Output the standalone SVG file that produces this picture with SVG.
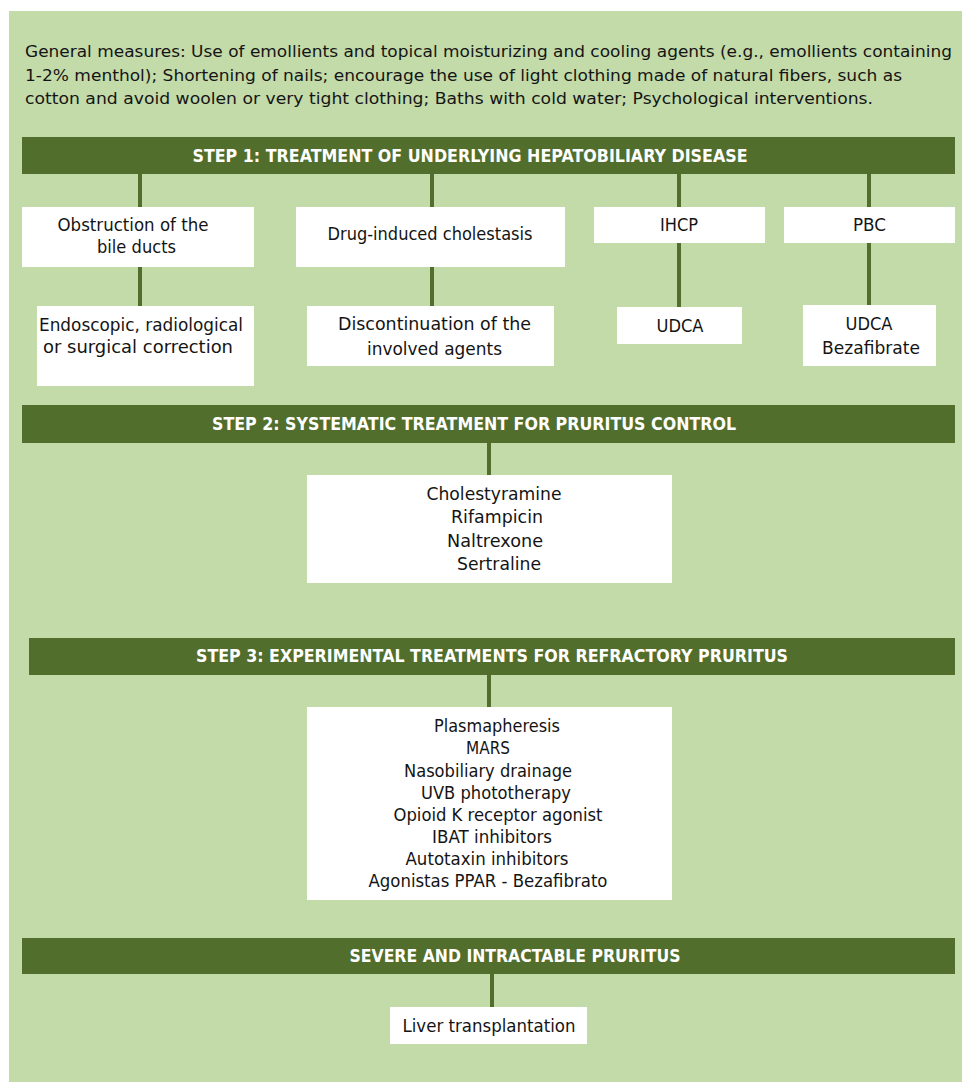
<svg xmlns="http://www.w3.org/2000/svg" width="962" height="1082" viewBox="0 0 962 1082">
<style>
.bg{fill:#c3daa9}
.bar{fill:#526e2d}
.box{fill:#ffffff}
.hd{font-family:"DejaVu Sans","Liberation Sans",sans-serif;font-weight:bold;font-size:18px;fill:#ffffff;text-anchor:middle}
.t{font-family:"DejaVu Sans","Liberation Sans",sans-serif;font-size:17px;fill:#141414;text-anchor:middle}
.gm{font-family:"DejaVu Sans","Liberation Sans",sans-serif;font-size:16.5px;fill:#141414}
.c{stroke:#526e2d;stroke-width:4;fill:none}
</style>
<rect width="962" height="1082" fill="#ffffff"/>
<rect class="bg" x="9" y="11" width="953" height="1071"/>
<g id="general">
<text class="gm" x="25" y="57" textLength="927" lengthAdjust="spacingAndGlyphs">General measures: Use of emollients and topical moisturizing and cooling agents (e.g., emollients containing</text>
<text class="gm" x="25" y="81" textLength="877" lengthAdjust="spacingAndGlyphs">1-2% menthol); Shortening of nails; encourage the use of light clothing made of natural fibers, such as</text>
<text class="gm" x="25" y="104" textLength="848" lengthAdjust="spacingAndGlyphs">cotton and avoid woolen or very tight clothing; Baths with cold water; Psychological interventions.</text>
</g>
<g id="connectors">
<line class="c" x1="140" y1="174" x2="140" y2="207"/>
<line class="c" x1="432" y1="174" x2="432" y2="207"/>
<line class="c" x1="679" y1="174" x2="679" y2="207"/>
<line class="c" x1="869" y1="174" x2="869" y2="207"/>
<line class="c" x1="140" y1="267" x2="140" y2="306"/>
<line class="c" x1="432" y1="267" x2="432" y2="306"/>
<line class="c" x1="679" y1="243" x2="679" y2="307"/>
<line class="c" x1="869" y1="243" x2="869" y2="305"/>
<line class="c" x1="489" y1="443" x2="489" y2="475"/>
<line class="c" x1="489" y1="675" x2="489" y2="707"/>
<line class="c" x1="492" y1="974" x2="492" y2="1007"/>
</g>
<g id="step1">
<rect class="bar" x="22" y="137" width="933" height="37"/>
<text class="hd" x="470" y="162" textLength="555" lengthAdjust="spacingAndGlyphs">STEP 1: TREATMENT OF UNDERLYING HEPATOBILIARY DISEASE</text>
</g>
<g id="obstruction">
<rect class="box" x="22" y="207" width="232" height="60"/>
<text class="t" x="133" y="231" textLength="151" lengthAdjust="spacingAndGlyphs">Obstruction of the</text>
<text class="t" x="136.5" y="253" textLength="79" lengthAdjust="spacingAndGlyphs">bile ducts</text>
</g>
<g id="drug">
<rect class="box" x="296" y="207" width="269" height="60"/>
<text class="t" x="430" y="240" textLength="205" lengthAdjust="spacingAndGlyphs">Drug-induced cholestasis</text>
</g>
<g id="ihcp">
<rect class="box" x="594" y="207" width="171" height="36"/>
<text class="t" x="679" y="231" textLength="38" lengthAdjust="spacingAndGlyphs">IHCP</text>
</g>
<g id="pbc">
<rect class="box" x="784" y="207" width="171" height="36"/>
<text class="t" x="869.5" y="231" textLength="33" lengthAdjust="spacingAndGlyphs">PBC</text>
</g>
<g id="endoscopic">
<rect class="box" x="37" y="306" width="217" height="80"/>
<text class="t" x="141" y="331" textLength="204" lengthAdjust="spacingAndGlyphs">Endoscopic, radiological</text>
<text class="t" x="138" y="353" textLength="190" lengthAdjust="spacingAndGlyphs">or surgical correction</text>
</g>
<g id="discontinuation">
<rect class="box" x="307" y="306" width="247" height="60"/>
<text class="t" x="434.5" y="330" textLength="193" lengthAdjust="spacingAndGlyphs">Discontinuation of the</text>
<text class="t" x="434.5" y="355" textLength="135" lengthAdjust="spacingAndGlyphs">involved agents</text>
</g>
<g id="udca1">
<rect class="box" x="617" y="307" width="125" height="37"/>
<text class="t" x="680" y="332" textLength="47" lengthAdjust="spacingAndGlyphs">UDCA</text>
</g>
<g id="udca2">
<rect class="box" x="803" y="305" width="133" height="61"/>
<text class="t" x="869" y="330" textLength="47" lengthAdjust="spacingAndGlyphs">UDCA</text>
<text class="t" x="871" y="354" textLength="98" lengthAdjust="spacingAndGlyphs">Bezafibrate</text>
</g>
<g id="step2">
<rect class="bar" x="22" y="405" width="933" height="38"/>
<text class="hd" x="474" y="430" textLength="524" lengthAdjust="spacingAndGlyphs">STEP 2: SYSTEMATIC TREATMENT FOR PRURITUS CONTROL</text>
</g>
<g id="step2-drugs">
<rect class="box" x="307" y="475" width="365" height="108"/>
<text class="t" x="494" y="500" textLength="135" lengthAdjust="spacingAndGlyphs">Cholestyramine</text>
<text class="t" x="497" y="523" textLength="92" lengthAdjust="spacingAndGlyphs">Rifampicin</text>
<text class="t" x="495" y="547" textLength="96" lengthAdjust="spacingAndGlyphs">Naltrexone</text>
<text class="t" x="499" y="570" textLength="84" lengthAdjust="spacingAndGlyphs">Sertraline</text>
</g>
<g id="step3">
<rect class="bar" x="29" y="638" width="926" height="37"/>
<text class="hd" x="492" y="662" textLength="592" lengthAdjust="spacingAndGlyphs">STEP 3: EXPERIMENTAL TREATMENTS FOR REFRACTORY PRURITUS</text>
</g>
<g id="step3-treatments">
<rect class="box" x="307" y="707" width="365" height="193"/>
<text class="t" x="497" y="732" textLength="126" lengthAdjust="spacingAndGlyphs">Plasmapheresis</text>
<text class="t" x="488" y="754" textLength="44" lengthAdjust="spacingAndGlyphs">MARS</text>
<text class="t" x="488" y="777" textLength="168" lengthAdjust="spacingAndGlyphs">Nasobiliary drainage</text>
<text class="t" x="496" y="799" textLength="150" lengthAdjust="spacingAndGlyphs">UVB phototherapy</text>
<text class="t" x="498" y="821" textLength="209" lengthAdjust="spacingAndGlyphs">Opioid K receptor agonist</text>
<text class="t" x="492" y="843" textLength="120" lengthAdjust="spacingAndGlyphs">IBAT inhibitors</text>
<text class="t" x="487" y="865" textLength="163" lengthAdjust="spacingAndGlyphs">Autotaxin inhibitors</text>
<text class="t" x="488" y="887" textLength="239" lengthAdjust="spacingAndGlyphs">Agonistas PPAR - Bezafibrato</text>
</g>
<g id="severe">
<rect class="bar" x="22" y="938" width="933" height="36"/>
<text class="hd" x="515" y="962" textLength="331" lengthAdjust="spacingAndGlyphs">SEVERE AND INTRACTABLE PRURITUS</text>
</g>
<g id="liver">
<rect class="box" x="390" y="1007" width="197" height="37"/>
<text class="t" x="489" y="1032" textLength="173" lengthAdjust="spacingAndGlyphs">Liver transplantation</text>
</g>
</svg>
